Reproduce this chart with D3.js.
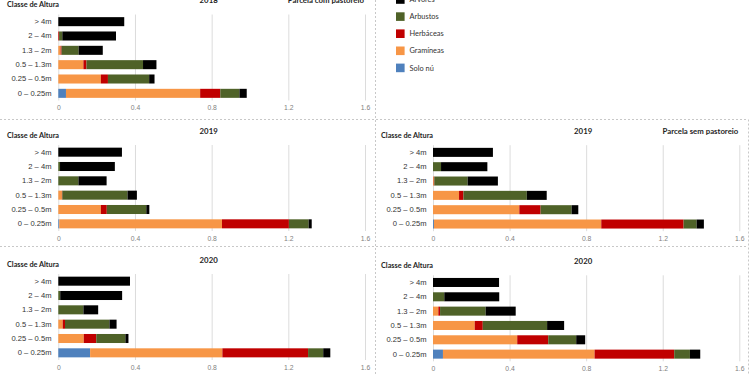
<!DOCTYPE html>
<html>
<head>
<meta charset="utf-8">
<script src="https://cdn.jsdelivr.net/npm/d3@7"></script>
<style>
    body { margin: 0; background: #fff; }
    svg { display: block; font-family: Lato, 'Noto Sans', sans-serif; }
</style>
</head>
<body>
<svg id="chart"></svg>
<script>
let size = {width: 750, height: 375}

// categorias e séries
const classes = ['> 4m', '2 – 4m', '1.3 – 2m', '0.5 – 1.3m', '0.25 – 0.5m', '0 – 0.25m']
const series = ['Solo nú', 'Gramíneas', 'Herbáceas', 'Arbustos', 'Árvores']
const seriesColors = ['#4f81bd', '#f79646', '#c00000', '#4f6228', '#000000']
const legendOrder = ['Árvores', 'Arbustos', 'Herbáceas', 'Gramíneas', 'Solo nú']
const tickValues = [0, 0.4, 0.8, 1.2, 1.6]

// valores por classe: [solo nú, gramíneas, herbáceas, arbustos, árvores]
const com2018 = [
    [0, 0, 0, 0, 0.344],
    [0, 0, 0.004, 0.017, 0.28],
    [0, 0.012, 0.005, 0.089, 0.126],
    [0, 0.131, 0.016, 0.295, 0.07],
    [0, 0.222, 0.037, 0.215, 0.028],
    [0.04, 0.70, 0.105, 0.10, 0.038]
]
const com2019 = [
    [0, 0, 0, 0, 0.332],
    [0, 0, 0, 0.009, 0.286],
    [0, 0, 0, 0.105, 0.147],
    [0, 0.019, 0.002, 0.34, 0.049],
    [0, 0.222, 0.031, 0.206, 0.016],
    [0.005, 0.849, 0.349, 0.103, 0.016]
]
const sem2019 = [
    [0, 0, 0, 0, 0.313],
    [0, 0, 0, 0.042, 0.242],
    [0, 0.004, 0.003, 0.174, 0.158],
    [0, 0.136, 0.023, 0.331, 0.104],
    [0, 0.451, 0.111, 0.162, 0.035],
    [0.005, 0.874, 0.43, 0.068, 0.038]
]
const com2020 = [
    [0, 0, 0, 0, 0.374],
    [0, 0, 0, 0.01, 0.323],
    [0, 0, 0, 0.131, 0.077],
    [0, 0.023, 0.012, 0.232, 0.037],
    [0, 0.133, 0.065, 0.152, 0.016],
    [0.166, 0.69, 0.447, 0.079, 0.037]
]
const sem2020 = [
    [0, 0, 0, 0, 0.345],
    [0, 0, 0, 0.059, 0.287],
    [0, 0.028, 0.009, 0.238, 0.157],
    [0, 0.218, 0.042, 0.336, 0.089],
    [0, 0.44, 0.162, 0.146, 0.047],
    [0.052, 0.792, 0.416, 0.082, 0.054]
]

const panels = [
    {data: com2018, title: '2018', note: 'Parcela com pastoreio', col: 0, top: 14.5},
    {data: com2019, title: '2019', note: '', col: 0, top: 145},
    {data: sem2019, title: '2019', note: 'Parcela sem pastoreio', col: 1, top: 145.2},
    {data: com2020, title: '2020', note: '', col: 0, top: 274},
    {data: sem2020, title: '2020', note: '', col: 1, top: 275.3}
]
const columns = [
    {x0: 58.3, x1: 365, label: 51.5, left: 7},
    {x0: 433, x1: 739.3, label: 426.5, left: 381}
]
const plotHeight = 86

const svg = d3.select('#chart')
    .attr('width', size.width)
    .attr('height', size.height)

// separadores tracejados
const sep = svg.append('g')
    .attr('stroke', '#c8c8c8')
    .attr('stroke-width', 1)
    .attr('stroke-dasharray', '2,2')
sep.append('line').attr('x1', 0).attr('x2', 748).attr('y1', 119.5).attr('y2', 119.5)
sep.append('line').attr('x1', 0).attr('x2', 748).attr('y1', 246.5).attr('y2', 246.5)
sep.append('line').attr('x1', 375.5).attr('x2', 375.5).attr('y1', 0).attr('y2', 375)
sep.append('line').attr('x1', 748.5).attr('x2', 748.5).attr('y1', 119.5).attr('y2', 375)

const stack = d3.stack().keys(series)

const drawPanel = function (p) {
    const c = columns[p.col]
    const rows = p.data.map((vals, i) => {
        let o = {classe: classes[i]}
        series.forEach((s, j) => o[s] = vals[j])
        return o
    })

    const xScale = d3.scaleLinear()
        .domain([0, 1.6])
        .range([c.x0, c.x1])
    const yScale = d3.scaleBand()
        .domain(classes)
        .range([p.top, p.top + plotHeight])
        .paddingInner(0.37)
        .paddingOuter(0.185)

    const g = svg.append('g')

    // grelha vertical
    const xAxis = d3.axisBottom(xScale)
        .tickValues(tickValues)
        .tickFormat(d => d === 0 ? '0' : d3.format('.1f')(d))
        .tickSize(-plotHeight)
        .tickPadding(5)
    const xAxisG = g.append('g')
        .attr('transform', `translate(0, ${p.top + plotHeight})`)
        .call(xAxis)
    xAxisG.select('.domain').remove()
    xAxisG.selectAll('.tick line')
        .attr('stroke', '#dcdcdc')
    xAxisG.selectAll('.tick text')
        .attr('fill', '#7f7f7f')
        .attr('font-size', '6.8px')

    // barras empilhadas
    const layers = stack(rows)
    g.selectAll('.layer')
        .data(layers)
        .join('g')
        .attr('fill', (d, i) => seriesColors[i])
        .selectAll('rect')
        .data(d => d)
        .join('rect')
        .attr('x', d => xScale(d[0]))
        .attr('y', d => yScale(d.data.classe))
        .attr('width', d => Math.max(0, xScale(d[1]) - xScale(d[0])))
        .attr('height', yScale.bandwidth())

    // rótulos das classes
    const yAxis = d3.axisLeft(yScale)
        .tickSize(0)
        .tickPadding(0)
    const yAxisG = g.append('g')
        .attr('transform', `translate(${c.label}, 0)`)
        .call(yAxis)
    yAxisG.select('.domain').remove()
    yAxisG.selectAll('.tick text')
        .attr('fill', '#333')
        .attr('font-size', '7.6px')

    g.append('text')
        .attr('x', c.left)
        .attr('y', p.top - 7.5)
        .attr('font-size', '7.3px')
        .attr('font-weight', 'bold')
        .attr('fill', '#1f1f1f')
        .text('Classe de Altura')

    g.append('text')
        .attr('x', (c.x0 + c.x1) / 2 - 3)
        .attr('y', p.top - 11.5)
        .attr('text-anchor', 'middle')
        .attr('font-size', '7.8px')
        .attr('font-weight', 'bold')
        .attr('fill', '#1f1f1f')
        .text(p.title)

    if (p.note) {
        g.append('text')
            .attr('x', c.x1 - 1)
            .attr('y', p.top - 11.5)
            .attr('text-anchor', 'end')
            .attr('font-size', '7.8px')
            .attr('font-weight', 'bold')
            .attr('fill', '#1f1f1f')
            .text(p.note)
    }
}

panels.forEach(drawPanel)

// legenda
const legend = svg.append('g')
const legendItems = legend.selectAll('g')
    .data(legendOrder)
    .join('g')
    .attr('transform', (d, i) => `translate(396, ${-0.5 + i * 17.1})`)
legendItems.append('rect')
    .attr('x', 0)
    .attr('y', -4.3)
    .attr('width', 8.6)
    .attr('height', 8.6)
    .attr('fill', d => seriesColors[series.indexOf(d)])
legendItems.append('text')
    .attr('x', 13.5)
    .attr('y', 2.6)
    .attr('font-size', '7.4px')
    .attr('fill', '#333')
    .text(d => d)
</script>
</body>
</html>
